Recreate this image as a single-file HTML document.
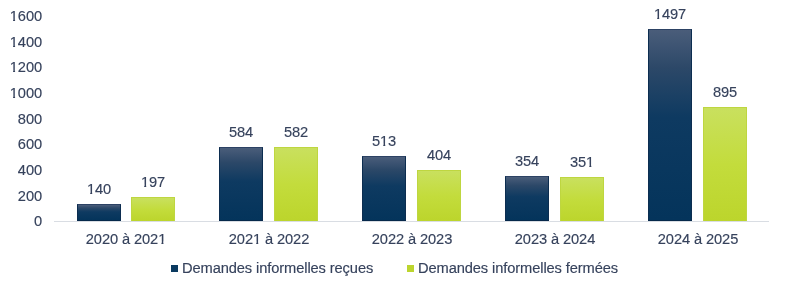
<!DOCTYPE html>
<html><head><meta charset="utf-8"><style>
html,body{margin:0;padding:0;background:#fff;}
body{width:785px;height:290px;position:relative;overflow:hidden;font-family:"Liberation Sans",sans-serif;color:#36425c;}
.t{position:absolute;will-change:transform;-webkit-text-stroke:0.15px #36425c;font-size:14.67px;line-height:17px;white-space:nowrap;letter-spacing:-0.1px;}
.yl{text-align:right;width:60px;}
.c{text-align:center;width:120px;}
.bd{position:absolute;box-sizing:border-box;border:1px solid #0c2d50;border-top-color:#2c4264;border-bottom-color:#06284a;background:linear-gradient(to bottom,#4a5d7a 0%,#2c4868 20%,#0e3a61 46%,#04345b 100%);}
.bg{position:absolute;box-sizing:border-box;border:1px solid #bed640;border-bottom:none;background:linear-gradient(to bottom,#c9e05e 0%,#c3dc3c 50%,#bcd52c 100%);}
.axis{position:absolute;left:54px;top:221px;width:715px;height:1px;background:#d9dde3;}
.lm{position:absolute;width:7px;height:7px;}
.one{display:inline-block;clip-path:polygon(0 0,100% 0,100% 10.4px,5.3px 10.4px,5.3px 17px,3.3px 17px,3.3px 10.4px,0 10.4px);}
</style></head><body>

<div class="t yl" style="left:-18.40px;top:213.40px">0</div>
<div class="t yl" style="left:-18.40px;top:187.72px">200</div>
<div class="t yl" style="left:-18.40px;top:162.04px">400</div>
<div class="t yl" style="left:-18.40px;top:136.36px">600</div>
<div class="t yl" style="left:-18.40px;top:110.68px">800</div>
<div class="t yl" style="left:-18.40px;top:85.00px"><span class="one">1</span>000</div>
<div class="t yl" style="left:-18.40px;top:59.32px"><span class="one">1</span>200</div>
<div class="t yl" style="left:-18.40px;top:33.64px"><span class="one">1</span>400</div>
<div class="t yl" style="left:-18.40px;top:7.96px"><span class="one">1</span>600</div>
<div class="axis"></div>
<div class="bd" style="left:76.50px;top:203.95px;width:44.00px;height:17.05px"></div>
<div class="bg" style="left:131.10px;top:196.61px;width:44.00px;height:24.39px"></div>
<div class="t c" style="left:38.50px;top:180.90px"><span class="one">1</span>40</div>
<div class="t c" style="left:93.10px;top:173.56px"><span class="one">1</span>97</div>
<div class="t c" style="left:65.80px;top:230.50px">2020 à 202<span class="one">1</span></div>
<div class="bd" style="left:219.43px;top:146.72px;width:44.00px;height:74.28px"></div>
<div class="bg" style="left:274.03px;top:146.98px;width:44.00px;height:74.02px"></div>
<div class="t c" style="left:181.43px;top:123.67px">584</div>
<div class="t c" style="left:236.03px;top:123.93px">582</div>
<div class="t c" style="left:208.73px;top:230.50px">202<span class="one">1</span> à 2022</div>
<div class="bd" style="left:362.36px;top:155.87px;width:44.00px;height:65.13px"></div>
<div class="bg" style="left:416.96px;top:169.92px;width:44.00px;height:51.08px"></div>
<div class="t c" style="left:324.36px;top:132.82px">5<span class="one">1</span>3</div>
<div class="t c" style="left:378.96px;top:146.87px">404</div>
<div class="t c" style="left:351.66px;top:230.50px">2022 à 2023</div>
<div class="bd" style="left:505.29px;top:176.37px;width:44.00px;height:44.63px"></div>
<div class="bg" style="left:559.89px;top:176.76px;width:44.00px;height:44.24px"></div>
<div class="t c" style="left:467.29px;top:153.32px">354</div>
<div class="t c" style="left:521.89px;top:153.71px">35<span class="one">1</span></div>
<div class="t c" style="left:494.59px;top:230.50px">2023 à 2024</div>
<div class="bd" style="left:648.22px;top:29.04px;width:44.00px;height:191.96px"></div>
<div class="bg" style="left:702.82px;top:106.63px;width:44.00px;height:114.37px"></div>
<div class="t c" style="left:610.22px;top:5.99px"><span class="one">1</span>497</div>
<div class="t c" style="left:664.82px;top:83.58px">895</div>
<div class="t c" style="left:637.52px;top:230.50px">2024 à 2025</div>
<div class="lm" style="left:171px;top:265px;background:#0a3a60"></div>
<div class="t" style="left:182px;top:260.40px">Demandes informelles reçues</div>
<div class="lm" style="left:407px;top:265px;background:#bcd52e"></div>
<div class="t" style="left:418px;top:260.40px">Demandes informelles fermées</div>
</body></html>
